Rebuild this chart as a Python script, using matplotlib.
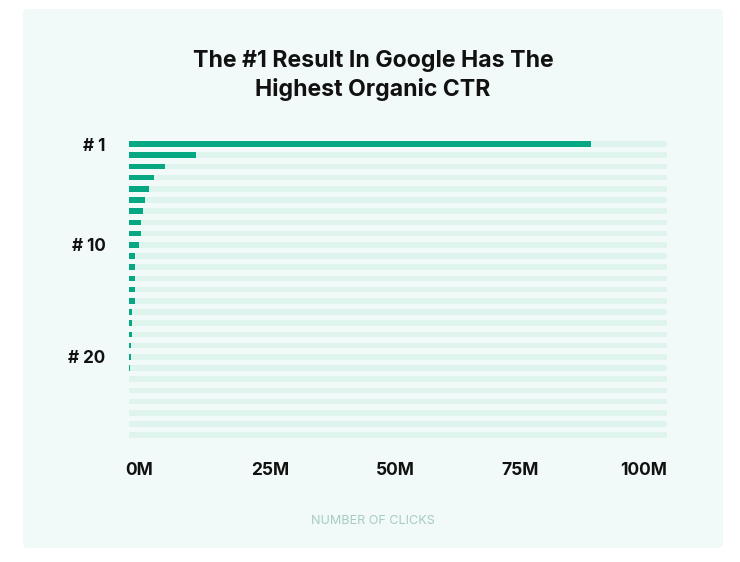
import matplotlib.pyplot as plt
from matplotlib.patches import FancyBboxPatch

plt.rcParams['font.family'] = ['Inter', 'DejaVu Sans']

# Google organic positions 1..27, clicks in millions
positions = list(range(1, 28))
clicks_m = [85.9, 12.5, 6.7, 4.6, 3.7, 2.85, 2.55, 2.25, 2.2, 1.75,
            1.05, 1.05, 1.05, 1.05, 1.05, 0.55, 0.55, 0.55, 0.3, 0.3,
            0.15, 0, 0, 0, 0, 0, 0]
x_max = 100
x_ticks = [0, 25, 50, 75, 100]
x_tick_labels = ['0M', '25M', '50M', '75M', '100M']
y_ticks = [1, 10, 20]
y_tick_labels = ['# 1', '# 10', '# 20']

bg = '#f1faf8'
track = '#e0f4ee'
green = '#05a882'

W, H = 740, 562
fig = plt.figure(figsize=(W / 100, H / 100), dpi=100)
fig.patch.set_facecolor('white')

# rounded card behind everything
card = FancyBboxPatch((23 / W, 1 - 548 / H), 700 / W, 539 / H,
                      boxstyle='round,pad=0,rounding_size=0.008',
                      transform=fig.transFigure, facecolor=bg, edgecolor='none', zorder=-5)
fig.patches.append(card)

ax = fig.add_axes([129.3 / W, 1 - 440.8 / H, 537.4 / W, 302.4 / H])
ax.set_facecolor('none')
ax.set_zorder(2)

ax.barh(positions, [x_max] * len(positions), height=0.5, color=track, zorder=1)
ax.barh(positions, clicks_m, height=0.5, color=green, zorder=2)

ax.set_xlim(0, x_max)
ax.set_ylim(len(positions) + 0.5, 0.5)

ax.set_yticks(y_ticks)
ax.set_yticklabels(y_tick_labels, fontsize=12.3, fontweight='bold', color='#111111')
ax.tick_params(axis='y', length=0, pad=17)
ax.set_xticks([])
for s in ax.spines.values():
    s.set_visible(False)

# x tick labels spread like the original (first left, last right)
frac = [-0.008, 0.262, 0.495, 0.727, 1.0]
align = ['left', 'center', 'center', 'center', 'right']
for f, lab, ha in zip(frac, x_tick_labels, align):
    ax.text(f, -0.097, lab, transform=ax.transAxes, ha=ha, va='center',
            fontsize=12.5, fontweight='bold', color='#111111')

fig.text(372.6 / W, 1 - 521 / H, 'NUMBER OF CLICKS', ha='center', va='center',
         fontsize=9.1, color='#a6ccc3')

fig.text(373 / W, 1 - 75.5 / H, 'The #1 Result In Google Has The\nHighest Organic CTR',
         ha='center', va='center', fontsize=16.6, fontweight='bold',
         color='#111111', linespacing=1.3)

fig.savefig('out.png', dpi=100, facecolor=fig.get_facecolor())
